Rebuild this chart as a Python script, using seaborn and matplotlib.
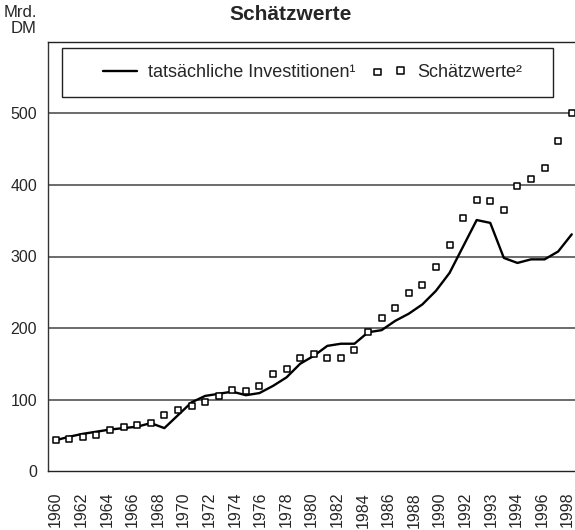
import numpy as np
import seaborn as sns
import matplotlib.pyplot as plt
from matplotlib.patches import Rectangle

# annual values 1960-1998, Mrd. DM
years = list(range(1960, 1999))
investitionen = [43, 48, 52, 55, 58, 60, 62, 67, 60, 78,
                 96, 105, 108, 111, 106, 109, 119, 131, 150, 161,
                 175, 178, 178, 194, 197, 210, 220, 233, 252, 277,
                 314, 351, 347, 298, 291, 296, 296, 307, 331]
schaetzwerte = [44, 45, 47, 50, 57, 61, 64, 67, 79, 86,
                91, 97, 105, 113, 112, 119, 136, 143, 158, 164,
                158, 158, 169, 194, 214, 228, 249, 260, 286, 316,
                354, 379, 377, 365, 398, 409, 424, 462, 501]
tick_labels = ['1960', '1962', '1964', '1966', '1968', '1970', '1972', '1974',
               '1976', '1978', '1980', '1982', '1984', '1986', '1988', '1990',
               '1992', '1993', '1994', '1996', '1998']
y_ticks = [0, 100, 200, 300, 400, 500]

sns.set_style('white')
plt.rcParams['font.family'] = ['Liberation Sans', 'DejaVu Sans']

fig = plt.figure(figsize=(5.75, 5.3), dpi=100)
ax = fig.add_axes([48 / 575, 59 / 530, 527 / 575, 429 / 530])

sns.lineplot(x=years, y=investitionen, color='black', linewidth=1.7,
             label='tatsächliche Investitionen¹', ax=ax)
sns.scatterplot(x=years, y=schaetzwerte, marker='s', s=22, color='white',
                edgecolor='black', linewidth=1.1, label='Schätzwerte²',
                ax=ax, zorder=3)

ax.set_xlim(1959.43, 1998.24)
ax.set_ylim(0, 600)
ax.set_yticks(y_ticks)
ax.set_yticklabels([str(v) for v in y_ticks], fontsize=11.5)
# the printed labels are evenly spaced and slightly tighter than the data years
ax.set_xticks(np.linspace(years[0], years[-1] - 0.3, len(tick_labels)))
ax.set_xticklabels(tick_labels, rotation=90, fontsize=11.5)
ax.tick_params(axis='y', length=3, pad=5, color='#444')
ax.tick_params(axis='x', length=3, pad=12, color='#444')

ax.grid(axis='y', color='#444', linewidth=1.1)
ax.get_ygridlines()[0].set_visible(False)
ax.set_axisbelow(True)

ax.spines['right'].set_visible(False)
ax.spines['left'].set_color('#333')
ax.spines['left'].set_linewidth(1.0)
for side in ['top', 'bottom']:
    ax.spines[side].set_color('#222')
    ax.spines[side].set_linewidth(1.0)
    ax.spines[side].set_linestyle((0, (1.5, 1)))

leg = ax.legend(loc='center', bbox_to_anchor=(0.502, 0.929), ncol=2,
                frameon=False, fontsize=13, scatterpoints=2,
                handlelength=1.9, handletextpad=0.6, columnspacing=0.9)
ax.add_patch(Rectangle((0.027, 0.872), 0.931, 0.114, transform=ax.transAxes,
                       facecolor='white', edgecolor='#222', linewidth=1.0,
                       zorder=2.5))
leg.set_zorder(4)

ax.set_xlabel('')
ax.set_ylabel('')

fig.text(291 / 575, 1 - 5 / 530, 'Schätzwerte', ha='center', va='top',
         fontsize=15, fontweight='bold')
fig.text(37 / 575, 1 - 5 / 530, 'Mrd.\nDM', ha='right', va='top',
         fontsize=12, linespacing=1.1)

fig.savefig('out.png', dpi=100)
